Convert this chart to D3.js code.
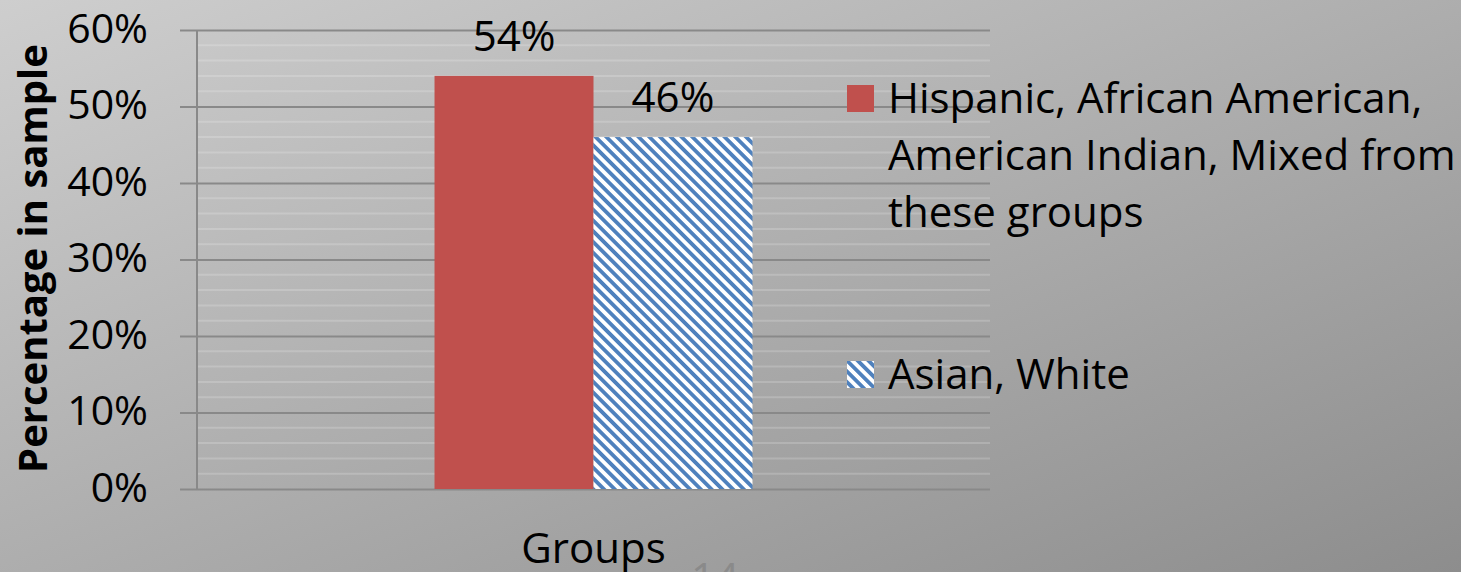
<!DOCTYPE html>
<html lang="en">
<head>
<meta charset="UTF-8" />
<title>Percentage in sample by group</title>
<script src="https://cdn.jsdelivr.net/npm/d3@7/dist/d3.min.js"></script>
<style>
  html, body { margin: 0; padding: 0; }
  body { width: 1461px; height: 572px; overflow: hidden; }
  svg text { font-family: "Open Sans", "Noto Sans", sans-serif; fill: #000; }
</style>
</head>
<body>
<svg id="chart" width="1461" height="572"></svg>
<script>
  // chart data
  var categories = [""];
  var seriesNames = ["Hispanic, African American, American Indian, Mixed from these groups", "Asian, White"];
  var seriesValues = [0.54, 0.46];
  var valueLabels = ["54%", "46%"];
  var yTicks = [0, 0.1, 0.2, 0.3, 0.4, 0.5, 0.6];
  var minorTicks = d3.range(0, 0.601, 0.02);
  var legendLines = [
    ["Hispanic, African American,", "American Indian, Mixed from", "these groups"],
    ["Asian, White"]
  ];

  var svg = d3.select("#chart");
  var W = 1461, H = 572;
  var plot = { left: 197, right: 990, top: 30, bottom: 489 };
  var fontSize = 42;

  var defs = svg.append("defs");
  // slide background, light top-left to darker bottom-right
  var bg = defs.append("linearGradient").attr("id", "bg")
    .attr("x1", "0").attr("y1", "0").attr("x2", "1").attr("y2", "1");
  bg.append("stop").attr("offset", "0%").attr("stop-color", "#cecece");
  bg.append("stop").attr("offset", "100%").attr("stop-color", "#8d8d8d");

  // diagonal hatch for second series
  var hatch = defs.append("pattern").attr("id", "hatch")
    .attr("patternUnits", "userSpaceOnUse")
    .attr("width", 7.6).attr("height", 7.6)
    .attr("patternTransform", "rotate(-45)");
  hatch.append("rect").attr("width", 7.6).attr("height", 7.6).attr("fill", "#fff");
  hatch.append("rect").attr("width", 3.8).attr("height", 7.6).attr("fill", "#4f81bd");

  svg.append("rect").attr("width", W).attr("height", H).attr("fill", "url(#bg)");

  var y = d3.scaleLinear().domain([0, 0.6]).range([plot.bottom, plot.top]);
  var x0 = d3.scaleBand().domain(categories).range([plot.left, plot.right])
    .paddingInner(0.4276).paddingOuter(0.4276);
  var x1 = d3.scaleBand().domain(seriesNames).range([0, x0.bandwidth()]).padding(0);
  var fills = ["#c0504d", "url(#hatch)"];

  // minor gridlines
  svg.append("g").selectAll("line")
    .data(minorTicks.filter(function(d) { return Math.round(d * 100) % 10 !== 0; }))
    .join("line")
    .attr("x1", plot.left).attr("x2", plot.right)
    .attr("y1", function(d) { return y(d); }).attr("y2", function(d) { return y(d); })
    .attr("stroke", "rgba(255,255,255,0.18)").attr("stroke-width", 2);

  // major gridlines with tick labels
  var yAxis = d3.axisLeft(y).tickValues(yTicks)
    .tickFormat(d3.format(".0%"))
    .tickSize(-(plot.right - plot.left + 17)).tickPadding(32);
  var gy = svg.append("g").attr("transform", "translate(" + (plot.left - 17) + ",0)").call(yAxis);
  gy.select(".domain").remove();
  gy.selectAll(".tick line").attr("stroke", "#898989").attr("stroke-width", 2);
  gy.selectAll(".tick text").attr("font-size", 41)
    .attr("dy", "0.3em")
    .style("font-family", "'Open Sans', sans-serif");

  // vertical axis line
  svg.append("line")
    .attr("x1", plot.left).attr("x2", plot.left)
    .attr("y1", y(0.6)).attr("y2", y(0))
    .attr("stroke", "#898989").attr("stroke-width", 2);

  // bars
  var gBars = svg.append("g").attr("transform", "translate(" + x0(categories[0]) + ",0)");
  gBars.selectAll("rect")
    .data(seriesValues)
    .join("rect")
    .attr("x", function(d, i) { return x1(seriesNames[i]); })
    .attr("width", x1.bandwidth())
    .attr("y", function(d) { return y(d); })
    .attr("height", function(d) { return y(0) - y(d); })
    .attr("fill", function(d, i) { return fills[i]; });

  gBars.selectAll("text.val")
    .data(seriesValues)
    .join("text")
    .attr("class", "val")
    .attr("x", function(d, i) { return x1(seriesNames[i]) + x1.bandwidth() / 2; })
    .attr("y", function(d) { return y(d) - 25; })
    .attr("text-anchor", "middle")
    .attr("font-size", fontSize)
    .text(function(d, i) { return valueLabels[i]; });

  // axis titles
  svg.append("text")
    .attr("transform", "translate(47," + ((plot.top + plot.bottom) / 2 - 1) + ") rotate(-90)")
    .attr("text-anchor", "middle")
    .attr("font-size", 40)
    .attr("font-weight", "bold")
    .text("Percentage in sample");

  svg.append("text")
    .attr("x", (plot.left + plot.right) / 2).attr("y", 563)
    .attr("text-anchor", "middle")
    .attr("font-size", fontSize)
    .text("Groups");

  // slide number, cut off at the bottom
  svg.append("text")
    .attr("x", 715).attr("y", 593)
    .attr("text-anchor", "middle")
    .attr("font-size", fontSize)
    .style("fill", "#8a8a8a")
    .text("14");

  // legend
  var legendTop = [85, 361];
  var legend = svg.append("g");
  legendLines.forEach(function(lines, i) {
    legend.append("rect")
      .attr("x", 847).attr("y", legendTop[i])
      .attr("width", 27).attr("height", 27)
      .attr("fill", fills[i]);
    legend.selectAll(null)
      .data(lines)
      .join("text")
      .attr("x", 888)
      .attr("y", function(d, j) { return legendTop[i] + 28 + j * 57; })
      .attr("font-size", fontSize)
      .text(function(d) { return d; });
  });
</script>
</body>
</html>
